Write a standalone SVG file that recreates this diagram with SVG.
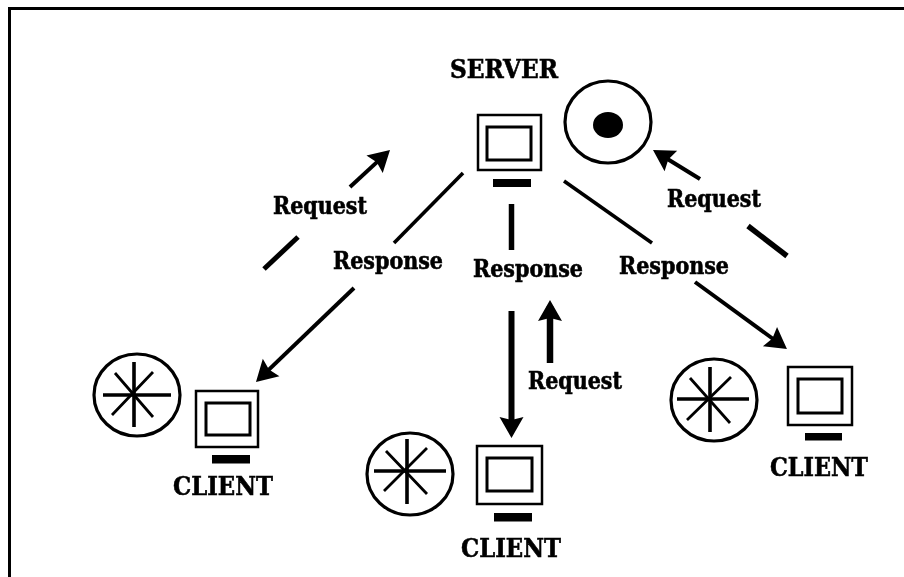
<svg xmlns="http://www.w3.org/2000/svg" width="904" height="577" viewBox="0 0 904 577">
  <style>
    .mon { fill: none; stroke: #000; stroke-width: 2.5; }
    .scr { fill: none; stroke: #000; stroke-width: 3; }
    .disc { fill: none; stroke: #000; stroke-width: 3.2; }
    .sp { fill: none; stroke: #000; stroke-width: 3.6; }
    .sp2 { fill: none; stroke: #000; stroke-width: 2.8; }
    .lbl { font-family: "DejaVu Serif", "Liberation Serif", serif; font-weight: 700; font-size: 24px; fill: #000; stroke: #000; stroke-width: 0.6; }
    .cap { font-family: "DejaVu Serif", "Liberation Serif", serif; font-weight: 700; font-size: 26px; fill: #000; stroke: #000; stroke-width: 0.6; }
    .c { fill: none; stroke: #000; stroke-linecap: butt; }
  </style>
  <defs>
    <marker id="ah" markerUnits="userSpaceOnUse" markerWidth="26" markerHeight="26" refX="16" refY="13" orient="auto">
      <path d="M1 1 L22 13 L1 25 L4 13 Z" fill="#000"/>
    </marker>
    <filter id="soft" x="-5%" y="-5%" width="110%" height="110%"><feGaussianBlur stdDeviation="0.55"/></filter>
  </defs>
  <rect width="904" height="577" fill="#fff"/>
  <path d="M9.5 577 V8.5 H904" fill="none" stroke="#000" stroke-width="3"/>
  <g filter="url(#soft)">
    <g id="connectors">
      <path class="c" stroke-width="3.6" d="M463 173 L394 243"/>
      <path class="c" stroke-width="4" d="M354 288 L260.3 377.9" marker-end="url(#ah)"/>
      <path class="c" stroke-width="5" d="M264 269 L298 237"/>
      <path class="c" stroke-width="4" d="M350 187 L385.6 154.1" marker-end="url(#ah)"/>
      <path class="c" stroke-width="5.5" d="M511.5 204 V250"/>
      <path class="c" stroke-width="6" d="M511.5 311 V432" marker-end="url(#ah)"/>
      <path class="c" stroke-width="6.5" d="M550 363 V306" marker-end="url(#ah)"/>
      <path class="c" stroke-width="3.6" d="M564 181 L652 243"/>
      <path class="c" stroke-width="4" d="M695 282 L782.1 345.5" marker-end="url(#ah)"/>
      <path class="c" stroke-width="5.5" d="M748 226 L787 256"/>
      <path class="c" stroke-width="4" d="M700 179 L658.1 153.2" marker-end="url(#ah)"/>
    </g>
    <g id="server">
      <rect class="mon" x="478" y="115" width="63" height="55"/>
      <rect class="scr" x="487" y="127" width="44" height="33"/>
      <rect x="493" y="179" width="38" height="8"/>
      <text class="cap" x="450" y="78" textLength="108" lengthAdjust="spacingAndGlyphs">SERVER</text>
    </g>
    <g id="server-disc">
      <ellipse class="disc" cx="608" cy="122" rx="43" ry="41"/>
      <ellipse cx="608" cy="125" rx="15" ry="13"/>
    </g>
    <g id="client-left">
      <rect class="mon" x="196" y="391" width="62" height="56"/>
      <rect class="scr" x="206" y="403" width="44" height="32"/>
      <rect x="212" y="455" width="38" height="8.5"/>
      <text class="cap" x="173" y="495" textLength="100" lengthAdjust="spacingAndGlyphs">CLIENT</text>
    </g>
    <g id="client-left-disc">
      <ellipse class="disc" cx="137" cy="395" rx="43" ry="41"/>
      <path class="sp" d="M103 395 H171 M134 362 V427"/>
      <path class="sp2" d="M115 373 L153 417 M153 372 L112 415"/>
    </g>
    <g id="client-middle">
      <rect class="mon" x="477" y="446" width="65" height="58"/>
      <rect class="scr" x="487" y="458" width="45" height="33"/>
      <rect x="494" y="513" width="38" height="8.5"/>
      <text class="cap" x="461" y="557" textLength="100" lengthAdjust="spacingAndGlyphs">CLIENT</text>
    </g>
    <g id="client-middle-disc">
      <ellipse class="disc" cx="410" cy="474" rx="43" ry="41"/>
      <path class="sp" d="M374 471 H446 M407 439 V504"/>
      <path class="sp2" d="M386 451 L427 494 M427 448 L384 491"/>
    </g>
    <g id="client-right">
      <rect class="mon" x="788" y="367" width="64" height="58"/>
      <rect class="scr" x="798" y="379" width="44" height="34"/>
      <rect x="805" y="433" width="37" height="7.5"/>
      <text class="cap" x="770" y="476" textLength="98" lengthAdjust="spacingAndGlyphs">CLIENT</text>
    </g>
    <g id="client-right-disc">
      <ellipse class="disc" cx="714" cy="400" rx="43" ry="41"/>
      <path class="sp" d="M677 399 H749 M710 367 V432"/>
      <path class="sp2" d="M690 378 L730 423 M731 377 L687 420"/>
    </g>
    <g id="labels">
      <text class="lbl" x="273" y="214" textLength="94" lengthAdjust="spacingAndGlyphs">Request</text>
      <text class="lbl" x="333" y="269" textLength="110" lengthAdjust="spacingAndGlyphs">Response</text>
      <text class="lbl" x="473" y="277" textLength="110" lengthAdjust="spacingAndGlyphs">Response</text>
      <text class="lbl" x="619" y="274" textLength="110" lengthAdjust="spacingAndGlyphs">Response</text>
      <text class="lbl" x="528" y="389" textLength="94" lengthAdjust="spacingAndGlyphs">Request</text>
      <text class="lbl" x="667" y="207" textLength="94" lengthAdjust="spacingAndGlyphs">Request</text>
    </g>
  </g>
</svg>
